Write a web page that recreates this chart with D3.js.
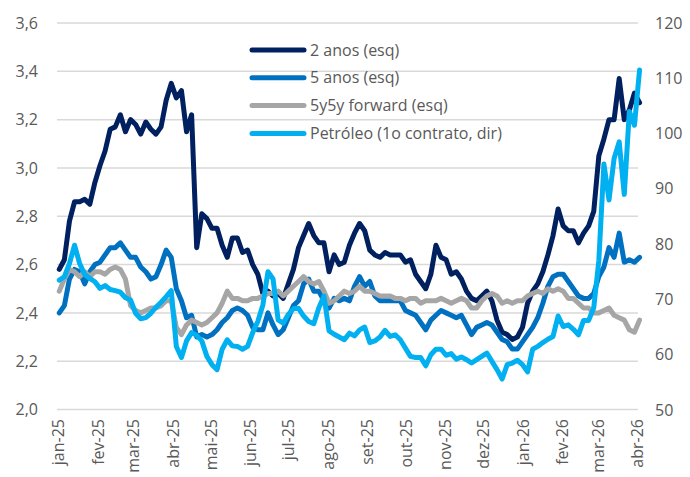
<!DOCTYPE html>
<html>
<head>
<meta charset="utf-8">
<script src="https://cdn.jsdelivr.net/npm/d3@7"></script>
<style>
  html, body { margin: 0; padding: 0; background: #ffffff; }
  svg { display: block; font-family: "Open Sans", "Noto Sans", sans-serif; }
</style>
</head>
<body>
<svg id="chart" width="690" height="477"></svg>
<script>
// ---------- DATA ----------
const startDate = new Date(2025, 0, 2);
const stepDays = 4;

const anos2 = [2.58,2.62,2.78,2.86,2.86,2.87,2.85,2.94,3.01,3.07,
  3.16,3.17,3.22,3.15,3.20,3.18,3.14,3.19,3.16,3.14,
  3.17,3.28,3.35,3.29,3.32,3.15,3.22,2.67,2.81,2.79,
  2.75,2.75,2.68,2.63,2.71,2.71,2.65,2.66,2.60,2.56,
  2.48,2.49,2.47,2.48,2.46,2.52,2.58,2.67,2.72,2.77,
  2.72,2.69,2.69,2.57,2.64,2.60,2.61,2.68,2.73,2.77,
  2.74,2.66,2.64,2.63,2.65,2.64,2.64,2.64,2.61,2.62,
  2.56,2.53,2.50,2.56,2.68,2.63,2.62,2.56,2.57,2.54,
  2.49,2.46,2.45,2.47,2.49,2.45,2.37,2.32,2.31,2.29,
  2.30,2.34,2.44,2.49,2.52,2.57,2.64,2.72,2.83,2.76,
  2.74,2.74,2.69,2.73,2.76,2.82,3.05,3.12,3.20,3.20,
  3.37,3.20,3.24,3.31,3.27];

const anos5 = [2.40,2.43,2.54,2.58,2.57,2.52,2.57,2.60,2.61,2.64,
  2.67,2.67,2.69,2.66,2.63,2.63,2.59,2.57,2.54,2.55,
  2.60,2.66,2.63,2.50,2.45,2.38,2.39,2.30,2.31,2.30,
  2.31,2.33,2.36,2.38,2.41,2.42,2.41,2.39,2.34,2.33,
  2.33,2.40,2.35,2.31,2.33,2.38,2.43,2.45,2.52,2.54,
  2.49,2.49,2.45,2.42,2.46,2.45,2.46,2.45,2.51,2.55,
  2.51,2.53,2.47,2.45,2.45,2.45,2.45,2.45,2.41,2.40,
  2.39,2.36,2.33,2.37,2.39,2.41,2.40,2.39,2.38,2.39,
  2.35,2.31,2.34,2.35,2.36,2.35,2.32,2.29,2.28,2.25,
  2.25,2.28,2.31,2.34,2.38,2.44,2.51,2.55,2.56,2.56,
  2.53,2.50,2.47,2.46,2.46,2.48,2.55,2.59,2.67,2.63,
  2.73,2.61,2.62,2.61,2.63];

const fwd5y5y = [2.49,2.54,2.58,2.57,2.55,2.57,2.55,2.57,2.57,2.56,
  2.58,2.59,2.58,2.54,2.43,2.41,2.40,2.41,2.42,2.42,
  2.43,2.45,2.45,2.34,2.31,2.35,2.37,2.36,2.35,2.36,
  2.38,2.40,2.44,2.49,2.46,2.46,2.45,2.45,2.46,2.46,
  2.47,2.48,2.48,2.49,2.47,2.49,2.51,2.53,2.55,2.53,
  2.52,2.53,2.49,2.44,2.45,2.47,2.49,2.48,2.49,2.51,
  2.49,2.49,2.48,2.47,2.47,2.47,2.46,2.46,2.45,2.46,
  2.46,2.44,2.45,2.45,2.45,2.46,2.45,2.44,2.45,2.46,
  2.45,2.42,2.42,2.45,2.47,2.48,2.47,2.44,2.45,2.44,
  2.45,2.45,2.47,2.48,2.49,2.48,2.50,2.49,2.50,2.49,
  2.46,2.46,2.44,2.42,2.42,2.40,2.40,2.41,2.42,2.39,
  2.38,2.37,2.33,2.32,2.37];

const petroleo = [73.5,74.1,76.5,79.8,76.5,74.5,73.8,73.2,72.0,72.5,
  71.8,71.6,71.3,70.3,69.9,67.5,66.5,66.7,67.5,68.6,
  69.5,70.5,71.6,61.5,59.5,62.5,64.0,63.5,62.5,59.7,
  58.2,57.3,61.0,62.7,61.6,61.5,61.0,61.5,64.0,66.0,
  69.0,75.0,73.7,66.3,65.7,67.3,68.3,68.4,67.0,66.0,
  65.6,68.5,70.6,64.3,63.7,63.2,62.7,63.9,63.4,64.5,
  65.0,62.2,62.5,63.2,64.4,63.3,63.6,62.7,61.2,59.7,
  59.5,59.5,58.0,60.0,61.0,61.0,59.9,60.2,59.2,59.6,
  59.1,58.5,59.1,59.7,60.3,58.8,57.3,55.6,58.2,58.5,
  59.0,58.2,56.9,61.0,61.5,62.2,62.8,63.3,67.0,65.1,
  65.4,64.6,63.6,66.2,66.2,68.5,77.0,94.5,88.0,95.5,
  98.5,89.0,104.0,101.5,111.5];

const monthLabels = ["jan-25","fev-25","mar-25","abr-25","mai-25","jun-25","jul-25","ago-25",
  "set-25","out-25","nov-25","dez-25","jan-26","fev-26","mar-26","abr-26"];
const leftTicks = [2.0,2.2,2.4,2.6,2.8,3.0,3.2,3.4,3.6];
const rightTicks = [50,60,70,80,90,100,110,120];

const seriesNames = ["2 anos (esq)","5 anos (esq)","5y5y forward (esq)","Petróleo (1o contrato, dir)"];
const seriesColors = ["#002060","#0070C0","#A6A6A6","#00B0F0"];

// ---------- BUILD ----------
const dates = anos2.map((_, i) => d3.timeDay.offset(startDate, stepDays * i));
const tickDates = monthLabels.map((_, i) => new Date(2025, i, 1));

const svg = d3.select("#chart");
const plotLeft = 57, plotRight = 638, plotTop = 23, plotBottom = 409.5;

const x = d3.scaleTime()
  .domain([new Date(2025, 0, 1), new Date(2026, 3, 1)])
  .range([58, 637]);
const yL = d3.scaleLinear().domain([2.0, 3.6]).range([plotBottom, plotTop]);
const yR = d3.scaleLinear().domain([50, 120]).range([410, 23]);

const textColor = "#595959";

// gridlines
svg.append("g").selectAll("line").data(leftTicks).join("line")
  .attr("x1", plotLeft).attr("x2", plotRight)
  .attr("y1", d => yL(d)).attr("y2", d => yL(d))
  .attr("stroke", "#d9d9d9").attr("stroke-width", 1.5);

// left axis
const leftAxis = d3.axisLeft(yL).tickValues(leftTicks)
  .tickFormat(d => d3.format(".1f")(d).replace(".", ","))
  .tickSize(0).tickPadding(0);
const gL = svg.append("g").attr("transform", "translate(38,0)").call(leftAxis);
gL.select(".domain").remove();
gL.selectAll("text").attr("fill", textColor).attr("font-size", 16)
  .style("font-family", "'Open Sans', 'Noto Sans', sans-serif");

// right axis
const rightAxis = d3.axisRight(yR).tickValues(rightTicks)
  .tickFormat(d3.format("d")).tickSize(0).tickPadding(0);
const gR = svg.append("g").attr("transform", "translate(655,0)").call(rightAxis);
gR.select(".domain").remove();
gR.selectAll("text").attr("fill", textColor).attr("font-size", 16)
  .style("font-family", "'Open Sans', 'Noto Sans', sans-serif");

// bottom axis (rotated labels)
const bottomAxis = d3.axisBottom(x).tickValues(tickDates)
  .tickFormat((d, i) => monthLabels[i]).tickSize(0).tickPadding(0);
const gB = svg.append("g").attr("transform", "translate(0,419)").call(bottomAxis);
gB.select(".domain").remove();
gB.selectAll("text")
  .attr("fill", textColor).attr("font-size", 16)
  .style("font-family", "'Open Sans', 'Noto Sans', sans-serif")
  .attr("transform", "rotate(-90)")
  .attr("text-anchor", "end")
  .attr("x", 0).attr("y", 0).attr("dy", "0.35em");

// lines
const lineL = d3.line().x((d, i) => x(dates[i])).y(d => yL(d));
const lineR = d3.line().x((d, i) => x(dates[i])).y(d => yR(d));
const seriesData = [
  {vals: anos2, gen: lineL},
  {vals: anos5, gen: lineL},
  {vals: fwd5y5y, gen: lineL},
  {vals: petroleo, gen: lineR}
];
svg.append("g").selectAll("path").data(seriesData).join("path")
  .attr("d", d => d.gen(d.vals))
  .attr("fill", "none")
  .attr("stroke", (d, i) => seriesColors[i])
  .attr("stroke-width", 5)
  .attr("stroke-linejoin", "round")
  .attr("stroke-linecap", "round");

// legend
const legend = svg.append("g").attr("transform", "translate(250,50)");
const rows = legend.selectAll("g").data(seriesNames).join("g")
  .attr("transform", (d, i) => `translate(0,${i * 27.8})`);
rows.append("line").attr("x1", 2).attr("x2", 54).attr("y1", 0).attr("y2", 0)
  .attr("stroke", (d, i) => seriesColors[i]).attr("stroke-width", 5)
  .attr("stroke-linecap", "round");
rows.append("text").attr("x", 60).attr("y", 0).attr("dy", "0.35em")
  .attr("fill", textColor).attr("font-size", 16)
  .text(d => d);
</script>
</body>
</html>
